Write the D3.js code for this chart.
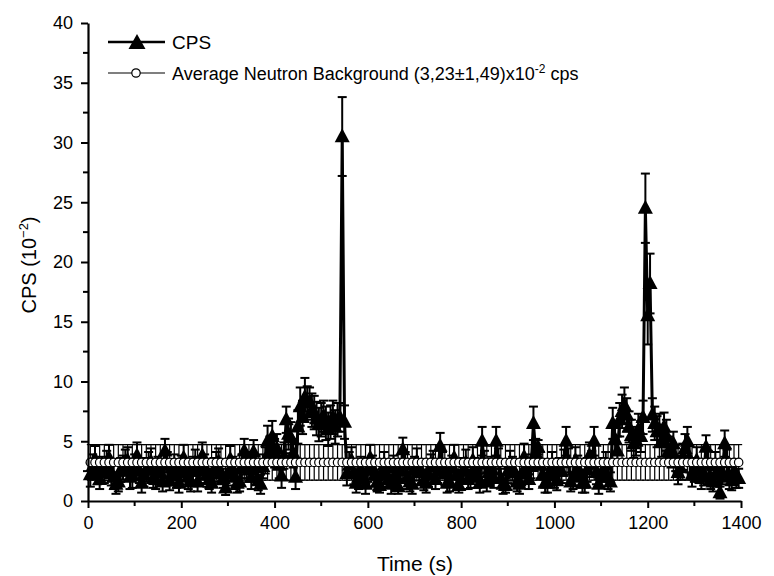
<!DOCTYPE html>
<html>
<head>
<meta charset="utf-8">
<script src="https://cdn.jsdelivr.net/npm/d3@7"></script>
<style>
  body { margin: 0; background: #fff; }
  svg { display: block; font-family: "Liberation Sans", Arial, sans-serif; }
</style>
</head>
<body>
<svg id="chart" width="774" height="576"></svg>
<script>

// CPS sampled every 5 s, from 5 s to 1395 s
let times = d3.range(5, 1400, 5);

// CPS (10^-2), one row per 100 s
let cps = [
  2.2, 2.9, 3.5, 2.4, 1.8, 2.7, 2.5, 3.1, 3.6, 2.3, 2.0, 1.4, 1.6, 2.6, 2.8, 3.2, 3.4, 2.0, 2.1, 2.9,
  3.8, 2.5, 1.5, 2.2, 2.6, 3.0, 3.3, 1.9, 1.8, 2.7, 2.4, 1.6, 4.2, 3.0, 1.7, 2.3, 2.9, 2.1, 1.5, 2.8,
  3.6, 2.4, 2.0, 1.6, 2.7, 3.2, 1.6, 2.5, 3.8, 2.9, 2.2, 1.8, 1.5, 2.6, 3.0, 3.3, 2.4, 1.9, 1.1, 2.3,
  3.5, 2.7, 2.0, 1.5, 1.6, 2.9, 4.2, 3.0, 2.6, 2.0, 4.1, 2.8, 1.7, 1.4, 2.9, 3.4, 5.0, 4.2, 5.4, 4.0,
  4.4, 3.0, 2.1, 3.8, 6.8, 5.6, 5.3, 4.0, 2.0, 6.2, 7.9, 7.0, 8.7, 8.2, 8.3, 7.6, 7.4, 6.9, 6.4, 6.8,
  7.1, 6.5, 6.0, 6.6, 7.0, 6.2, 6.8, 7.0, 30.5, 6.6, 2.3, 3.0, 3.4, 2.4, 1.5, 2.0, 2.7, 1.9, 1.4, 2.6,
  3.6, 2.8, 2.2, 1.6, 1.3, 2.4, 3.0, 2.2, 1.9, 1.4, 2.8, 2.0, 1.2, 2.5, 4.3, 3.0, 2.0, 1.6, 1.4, 2.7,
  3.3, 2.4, 2.5, 1.7, 1.5, 2.2, 2.9, 3.1, 1.8, 2.5, 4.6, 3.0, 2.3, 1.5, 1.6, 2.8, 3.6, 2.2, 1.3, 1.8,
  2.6, 3.2, 1.8, 2.1, 3.4, 2.6, 2.1, 1.5, 5.0, 3.1, 1.6, 2.4, 2.7, 1.9, 5.0, 3.3, 1.9, 1.4, 1.3, 2.5,
  3.1, 2.7, 2.4, 1.6, 1.4, 2.3, 3.7, 2.6, 1.8, 2.9, 6.5, 4.0, 4.5, 3.0, 2.2, 1.5, 1.5, 2.4, 3.0, 2.1,
  1.7, 2.6, 2.5, 3.2, 5.0, 3.3, 1.6, 2.0, 3.4, 2.8, 2.3, 1.5, 1.5, 2.6, 3.8, 3.1, 5.0, 2.4, 1.4, 2.2,
  2.6, 3.0, 2.0, 1.6, 6.5, 5.2, 4.2, 6.8, 7.5, 8.0, 7.2, 6.2, 5.5, 4.8, 5.0, 6.0, 5.4, 7.0, 24.5, 15.5,
  18.2, 7.2, 6.5, 5.8, 6.0, 4.9, 6.2, 5.5, 4.2, 3.9, 4.8, 3.6, 2.4, 2.8, 3.7, 4.4, 5.0, 3.5, 2.2, 2.6,
  3.4, 2.5, 2.0, 2.3, 4.5, 3.1, 1.8, 1.6, 3.0, 2.2, 0.7, 2.4, 4.8, 3.2, 2.0, 1.7, 2.5, 2.1, 1.9
];

// CPS error (10^-2)
let cpsErr = [
  1.0, 1.0, 1.1, 1.0, 0.8, 1.0, 1.0, 1.1, 1.1, 1.0, 1.0, 0.8, 0.8, 1.0, 1.0, 1.1, 1.1, 1.0, 1.0, 1.0,
  1.1, 1.0, 0.8, 1.0, 1.0, 1.1, 1.1, 0.8, 0.8, 1.0, 1.0, 0.8, 1.0, 1.1, 0.8, 1.0, 1.0, 1.0, 0.8, 1.0,
  1.1, 1.0, 1.0, 0.8, 1.0, 1.1, 0.8, 1.0, 1.1, 1.0, 1.0, 0.8, 0.8, 1.0, 1.1, 1.1, 1.0, 0.8, 0.6, 1.0,
  1.1, 1.0, 1.0, 0.8, 0.8, 1.0, 1.0, 1.1, 1.0, 1.0, 1.0, 1.0, 0.8, 0.8, 1.0, 1.1, 1.3, 1.2, 1.3, 1.2,
  1.2, 1.1, 1.0, 1.1, 1.1, 1.3, 1.3, 1.2, 1.0, 1.4, 1.6, 1.4, 1.6, 1.4, 1.2, 1.4, 1.4, 1.4, 1.4, 1.4,
  1.3, 1.4, 1.4, 1.4, 1.4, 1.4, 1.4, 1.2, 3.3, 1.4, 1.0, 1.1, 1.1, 1.0, 0.8, 1.0, 1.0, 0.8, 0.8, 1.0,
  1.1, 1.0, 1.0, 0.8, 0.6, 1.0, 1.1, 1.0, 0.8, 0.8, 1.0, 1.0, 0.6, 1.0, 1.0, 1.1, 1.0, 0.8, 0.8, 1.0,
  1.1, 1.0, 1.0, 0.8, 0.8, 1.0, 1.0, 1.1, 0.8, 1.0, 1.1, 1.1, 1.0, 0.8, 0.8, 1.0, 1.1, 1.0, 0.6, 0.8,
  1.0, 1.1, 0.8, 1.0, 1.1, 1.0, 1.0, 0.8, 1.2, 1.1, 0.8, 1.0, 1.0, 0.8, 1.2, 1.1, 0.8, 0.8, 0.6, 1.0,
  1.1, 1.0, 1.0, 0.8, 0.8, 1.0, 1.1, 1.0, 0.8, 1.0, 1.4, 1.2, 0.6, 1.1, 1.0, 0.8, 0.8, 1.0, 1.1, 1.0,
  0.8, 1.0, 1.0, 1.1, 1.2, 1.1, 0.8, 1.0, 1.1, 1.0, 1.0, 0.8, 0.8, 1.0, 1.1, 1.1, 1.2, 1.0, 0.8, 1.0,
  1.0, 1.1, 1.0, 0.8, 1.3, 1.3, 1.2, 1.4, 1.4, 1.5, 1.4, 1.3, 1.3, 1.2, 1.2, 1.3, 1.3, 1.4, 2.9, 2.4,
  2.5, 1.4, 1.4, 1.3, 1.3, 1.2, 1.2, 1.3, 1.2, 1.1, 1.0, 1.1, 1.0, 1.0, 1.1, 1.2, 1.2, 1.1, 1.0, 1.0,
  1.1, 1.0, 1.0, 1.0, 1.0, 1.1, 0.8, 0.8, 1.1, 1.0, 0.5, 1.0, 1.1, 1.1, 1.0, 0.8, 1.0, 1.0, 0.8
];

// average neutron background, plotted every 10 s
let bgTimes = d3.range(5, 1400, 10);
let bgMean = 3.23;
let bgErr = 1.49;

let xTicks = [0, 200, 400, 600, 800, 1000, 1200, 1400];
let yTicks = [0, 5, 10, 15, 20, 25, 30, 35, 40];

let cpsData = times.map(function(t, i) { return { t: t, v: cps[i], e: cpsErr[i] }; });
let bgData = bgTimes.map(function(t) { return { t: t, v: bgMean, e: bgErr }; });

let svg = d3.select('#chart');

let x = d3.scaleLinear().domain([0, 1400]).range([88, 741]);
let y = d3.scaleLinear().domain([0, 40]).range([501, 23]);

// filled up-triangle, w wide, h tall, centred on the point
function triPath(w, h) {
  let p = d3.path();
  p.moveTo(0, -h * 0.6);
  p.lineTo(w / 2, h * 0.4);
  p.lineTo(-w / 2, h * 0.4);
  p.closePath();
  return p.toString();
}

function drawErrorBars(g, data, width, cap) {
  let eb = g.selectAll('g.eb')
    .data(data)
    .join('g')
    .attr('class', 'eb')
    .attr('stroke', '#000')
    .attr('stroke-width', width);
  eb.append('line')
    .attr('x1', function(d) { return x(d.t); })
    .attr('x2', function(d) { return x(d.t); })
    .attr('y1', function(d) { return y(d.v - d.e); })
    .attr('y2', function(d) { return y(d.v + d.e); });
  eb.append('line')
    .attr('x1', function(d) { return x(d.t) - cap; })
    .attr('x2', function(d) { return x(d.t) + cap; })
    .attr('y1', function(d) { return y(d.v + d.e); })
    .attr('y2', function(d) { return y(d.v + d.e); });
  eb.append('line')
    .attr('x1', function(d) { return x(d.t) - cap; })
    .attr('x2', function(d) { return x(d.t) + cap; })
    .attr('y1', function(d) { return y(d.v - d.e); })
    .attr('y2', function(d) { return y(d.v - d.e); });
}

let line = d3.line()
  .x(function(d) { return x(d.t); })
  .y(function(d) { return y(d.v); });

// CPS series
let gCps = svg.append('g');
drawErrorBars(gCps, cpsData, 2, 4.5);
gCps.append('path')
  .datum(cpsData)
  .attr('d', line)
  .attr('fill', 'none')
  .attr('stroke', '#000')
  .attr('stroke-width', 3);
gCps.selectAll('path.tri')
  .data(cpsData)
  .join('path')
  .attr('class', 'tri')
  .attr('d', triPath(15, 14))
  .attr('transform', function(d) { return 'translate(' + x(d.t) + ',' + y(d.v) + ')'; })
  .attr('fill', '#000');

// background series
let gBg = svg.append('g');
drawErrorBars(gBg, bgData, 1.2, 3.5);
gBg.append('path')
  .datum(bgData)
  .attr('d', line)
  .attr('fill', 'none')
  .attr('stroke', '#000')
  .attr('stroke-width', 1);
gBg.selectAll('circle')
  .data(bgData)
  .join('circle')
  .attr('cx', function(d) { return x(d.t); })
  .attr('cy', function(d) { return y(d.v); })
  .attr('r', 4.2)
  .attr('fill', '#fff')
  .attr('stroke', '#000')
  .attr('stroke-width', 1.2);

// axes
let xAxis = d3.axisBottom(x).tickValues(xTicks).tickFormat(d3.format('d'))
  .tickSize(7).tickSizeOuter(0).tickPadding(8);
let yAxis = d3.axisLeft(y).tickValues(yTicks).tickFormat(d3.format('d'))
  .tickSize(7).tickSizeOuter(0).tickPadding(8);

let gx = svg.append('g').attr('transform', 'translate(0,501)').call(xAxis);
let gy = svg.append('g').attr('transform', 'translate(88,0)').call(yAxis);

// minor ticks
gx.selectAll('line.minor')
  .data(d3.range(100, 1400, 200))
  .join('line')
  .attr('class', 'minor')
  .attr('x1', function(d) { return x(d); })
  .attr('x2', function(d) { return x(d); })
  .attr('y1', 0).attr('y2', 5)
  .attr('stroke', '#000').attr('stroke-width', 2);
gy.selectAll('line.minor')
  .data(d3.range(2.5, 40, 5))
  .join('line')
  .attr('class', 'minor')
  .attr('y1', function(d) { return y(d); })
  .attr('y2', function(d) { return y(d); })
  .attr('x1', 0).attr('x2', -5)
  .attr('stroke', '#000').attr('stroke-width', 2);

[gx, gy].forEach(function(g) {
  g.select('.domain').attr('stroke-width', 2.2);
  g.selectAll('.tick line').attr('stroke-width', 2);
  g.selectAll('.tick text')
    .attr('font-size', 18)
    .attr('fill', '#000')
    .attr('font-family', '"Liberation Sans", Arial, sans-serif');
});

// axis titles
svg.append('text')
  .attr('x', 415).attr('y', 571)
  .attr('text-anchor', 'middle')
  .attr('font-size', 21)
  .text('Time (s)');

let yt = svg.append('text')
  .attr('transform', 'translate(36,265) rotate(-90)')
  .attr('text-anchor', 'middle')
  .attr('font-size', 20);
yt.append('tspan').text('CPS (10');
yt.append('tspan').attr('dy', -8).attr('font-size', 13).text('−2');
yt.append('tspan').attr('dy', 8).text(')');

// legend
let leg = svg.append('g');
leg.append('line')
  .attr('x1', 108).attr('x2', 165).attr('y1', 42).attr('y2', 42)
  .attr('stroke', '#000').attr('stroke-width', 2.5);
leg.append('path')
  .attr('d', triPath(17, 15))
  .attr('transform', 'translate(137,43)');
leg.append('text')
  .attr('x', 172).attr('y', 49)
  .attr('font-size', 19)
  .text('CPS');

leg.append('line')
  .attr('x1', 108).attr('x2', 165).attr('y1', 73).attr('y2', 73)
  .attr('stroke', '#000').attr('stroke-width', 1.2);
leg.append('circle')
  .attr('cx', 136).attr('cy', 73).attr('r', 4.2)
  .attr('fill', '#fff').attr('stroke', '#000').attr('stroke-width', 1.2);
let lt = leg.append('text')
  .attr('x', 172).attr('y', 80)
  .attr('font-size', 18);
lt.append('tspan').text('Average Neutron Background (3,23±1,49)x10');
lt.append('tspan').attr('dy', -7).attr('font-size', 12).text('-2');
lt.append('tspan').attr('dy', 7).text(' cps');

</script>
</body>
</html>
